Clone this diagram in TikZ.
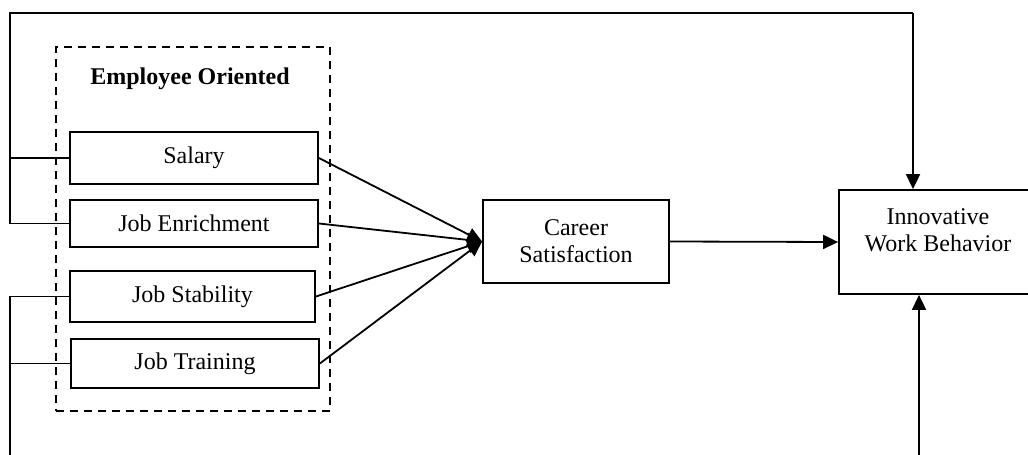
\documentclass[tikz,border=0pt]{standalone}
\usepackage{fontspec}
\setmainfont{Liberation Serif}
\usetikzlibrary{arrows.meta}
\begin{document}
\begin{tikzpicture}[x=0.5pt,y=-0.5pt,
  every node/.style={font=\fontsize{12pt}{13.5pt}\selectfont},
  varbox/.style={draw, line width=0.9pt, inner sep=0pt, align=center},
  link/.style={line width=0.9pt},
  arr/.style={line width=0.9pt, -{Triangle[length=7.5pt,width=7pt]}},
  grpbox/.style={draw, line width=0.9pt, dash pattern=on 4pt off 3pt, inner sep=0pt}]
\useasboundingbox (0,0) rectangle (1028,455);
\clip (0,0) rectangle (1028,455);
% group frame
\node[grpbox, minimum width=137pt, minimum height=182pt] (grp) at (193,229) {};
\node[font=\fontsize{12pt}{13.5pt}\selectfont\bfseries] (title) at (190,79) {Employee Oriented};
% variable boxes
\node[varbox, minimum width=124pt, minimum height=26pt] (sal) at (194,158) {Salary};
\node[varbox, minimum width=124pt, minimum height=23.5pt] (enr) at (194,223.5) {Job Enrichment};
\node[varbox, minimum width=122.5pt, minimum height=25.5pt] (stab) at (192.5,296.5) {Job Stability};
\node[varbox, minimum width=124pt, minimum height=24.5pt] (trn) at (195,363.5) {Job Training};
\node[varbox, minimum width=93pt, minimum height=41.5pt] (cs) at (576,241.5) {Career\\Satisfaction};
\node[varbox, minimum width=99pt, minimum height=52pt,
  label={[align=center, yshift=6pt, font=\fontsize{12pt}{13.5pt}\selectfont]center:Innovative\\Work Behavior}] (iwb) at (938,242) {};
% route points
\coordinate (tl) at (10,13);
\coordinate (tr) at (913,13);
\coordinate (bl) at (10,455);
\coordinate (br) at (919,455);
% top feedback path
\draw[link] (enr.west) -| (tl) -- (tr);
\draw[link] (sal.west) -- (sal.west -| tl);
\draw[arr] (tr) -- (tr |- iwb.north);
% bottom path
\draw[link] (stab.west) -| (bl);
\draw[link] (trn.west) -- (trn.west -| bl);
\draw[arr] (br) -- (br |- iwb.south);
% to career satisfaction
\draw[arr] (sal.east) -- (cs.west);
\draw[arr] (enr.east) -- (cs.west);
\draw[arr] (stab.east) -- (cs.west);
\draw[arr] (trn.east) -- (cs.west);
\draw[arr] (cs.east) -- (iwb.west);
\end{tikzpicture}
\end{document}
